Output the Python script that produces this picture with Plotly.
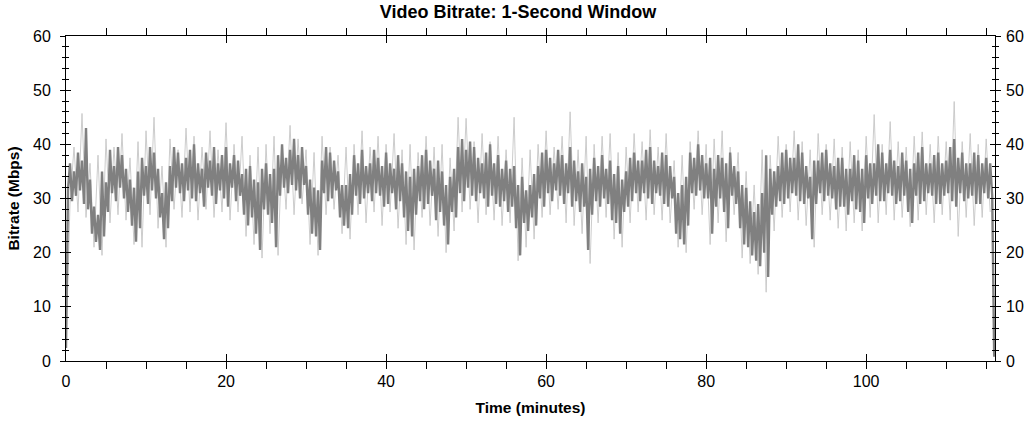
import plotly.graph_objects as go

# ---- data ----
# Main 1-second bitrate trace, sampled every 0.25 minute (Mbps); one row-group per minute
bitrate_step_min = 0.25
bitrate = [
    2.4, 31.5, 36.5, 29.5,  35.0, 30.5, 38.5, 31.5,  37.0, 29.0, 43.0, 28.0,  33.5, 23.5, 28.5, 22.0,
    27.0, 20.5, 35.0, 23.0,  33.0, 27.5, 39.0, 31.0,  36.0, 29.5, 39.5, 32.0,  38.0, 30.0, 35.5, 27.5,
    33.5, 25.0, 32.0, 22.0,  35.0, 24.5, 37.5, 30.5,  36.0, 29.0, 39.5, 31.5,  38.5, 30.0, 35.5, 26.5,
    31.0, 22.5, 33.0, 24.5,  36.0, 29.5, 39.5, 32.0,  38.5, 31.0, 36.5, 29.5,  37.5, 31.5, 39.0, 30.0,
    40.0, 29.5, 36.5, 31.0,  35.5, 28.5, 38.5, 32.0,  37.0, 30.5, 39.5, 29.0,  36.5, 31.5, 38.0, 30.0,
    39.5, 28.5, 36.5, 32.0,  38.0, 29.5, 37.0, 30.5,  34.5, 27.0, 35.5, 25.0,  36.0, 26.5, 33.5, 23.5,
    33.0, 20.5, 35.5, 28.0,  36.5, 27.0, 34.5, 25.5,  35.5, 21.0, 38.0, 30.5,  40.0, 32.0, 37.5, 31.0,
    39.0, 32.5, 41.0, 31.5,  38.0, 30.0, 39.5, 32.5,  36.0, 27.0, 33.5, 23.5,  32.0, 23.0, 31.5, 20.5,
    37.0, 31.0, 39.5, 29.5,  38.5, 30.0, 37.0, 31.5,  35.0, 26.5, 32.5, 25.0,  32.5, 24.5, 34.5, 27.0,
    38.0, 30.5, 36.5, 29.0,  39.0, 30.0, 36.0, 31.0,  36.5, 29.5, 39.0, 31.0,  37.5, 30.5, 36.0, 28.5,
    38.5, 29.0, 36.5, 31.0,  35.5, 28.0, 38.0, 29.5,  36.5, 26.5, 35.0, 24.0,  34.0, 23.0, 35.5, 27.0,
    36.0, 29.5, 38.0, 28.0,  39.0, 29.0, 37.0, 30.5,  35.5, 26.0, 37.0, 27.5,  35.0, 25.0, 32.5, 21.5,
    34.0, 27.5, 35.5, 26.5,  39.5, 31.0, 41.0, 29.5,  39.0, 32.0, 40.5, 30.5,  39.5, 29.5, 37.5, 31.0,
    36.5, 30.0, 38.5, 28.5,  40.0, 30.5, 36.5, 29.0,  38.0, 28.5, 35.5, 29.5,  37.0, 27.5, 35.5, 28.5,
    36.0, 24.5, 32.5, 19.5,  34.0, 25.5, 31.5, 24.0,  32.5, 26.5, 34.5, 25.0,  36.0, 30.0, 38.5, 28.5,
    39.0, 31.0, 37.5, 29.5,  36.5, 31.5, 39.0, 30.5,  38.0, 29.0, 36.5, 31.0,  39.5, 28.5, 37.0, 29.5,
    35.0, 27.5, 36.5, 28.5,  34.0, 20.5, 35.5, 27.0,  37.5, 29.5, 36.0, 28.5,  38.0, 30.0, 35.5, 29.0,
    37.0, 26.0, 34.5, 25.5,  36.0, 23.5, 33.5, 27.5,  35.0, 28.5, 37.5, 29.5,  38.5, 31.0, 37.0, 29.5,
    37.0, 31.0, 39.0, 30.0,  39.5, 29.0, 37.0, 31.0,  36.0, 30.5, 38.5, 29.0,  38.0, 28.5, 36.0, 30.0,
    34.0, 23.5, 31.0, 22.5,  32.5, 21.5, 34.0, 25.0,  38.5, 31.0, 37.5, 30.5,  40.0, 31.5, 38.0, 30.0,
    36.5, 30.0, 37.5, 23.5,  35.5, 28.5, 38.0, 30.0,  37.5, 27.5, 36.5, 24.5,  38.5, 30.5, 36.0, 29.0,
    35.0, 24.5, 32.5, 21.5,  32.0, 21.0, 29.5, 19.5,  27.5, 18.5, 29.0, 17.5,  31.0, 20.0, 38.0, 15.5,
    35.5, 27.0, 35.0, 28.5,  36.0, 29.5, 38.5, 29.0,  39.0, 30.0, 37.5, 31.0,  37.5, 30.5, 40.0, 29.5,
    38.5, 29.0, 36.0, 30.0,  34.0, 22.5, 37.0, 29.0,  37.0, 31.0, 38.5, 29.5,  39.0, 30.5, 36.5, 30.0,
    36.0, 28.0, 37.5, 28.5,  37.5, 28.5, 35.5, 27.0,  35.5, 29.5, 38.0, 28.0,  37.0, 27.5, 35.5, 25.5,
    38.0, 30.0, 36.5, 29.0,  36.5, 30.5, 40.0, 29.5,  38.5, 29.5, 36.5, 31.0,  39.0, 30.5, 37.0, 29.0,
    36.0, 29.5, 38.5, 30.5,  37.0, 27.5, 35.5, 25.5,  36.5, 30.5, 38.5, 29.0,  39.5, 29.5, 36.5, 31.0,
    36.5, 30.5, 38.0, 29.0,  38.5, 29.0, 36.5, 30.5,  37.0, 31.0, 39.5, 29.5,  41.0, 28.5, 37.5, 31.0,
    38.5, 29.5, 36.5, 30.0,  36.5, 30.5, 38.5, 29.0,  38.0, 29.0, 36.5, 31.0,  37.5, 30.0, 36.5, 30.5,
    0.8,
]

# Short single-second peaks (light grey), sampled every 0.5 minute: [high, low] per minute
peaks_step_min = 0.5
peaks = [
    2.4, 29.0,  39.5, 27.5,  45.7, 26.5,  36.5, 21.0,  38.0, 19.5,  41.0, 25.5,  39.5, 27.0,  42.0, 26.0,
    37.5, 21.5,  40.5, 21.0,  42.5, 27.0,  45.0, 24.5,  36.0, 21.0,  41.0, 28.0,  39.0, 26.5,  43.0, 27.5,
    41.5, 26.0,  39.5, 28.0,  42.5, 26.5,  39.0, 27.5,  44.0, 26.0,  40.0, 27.5,  41.5, 23.0,  38.0, 21.5,
    39.5, 19.0,  40.0, 23.5,  41.5, 19.5,  39.5, 28.0,  43.5, 27.0,  41.0, 29.0,  39.0, 21.5,  38.5, 19.5,
    41.5, 27.0,  39.5, 28.0,  38.0, 23.5,  39.5, 22.5,  40.0, 27.0,  42.5, 25.5,  39.5, 27.5,  41.5, 25.0,
    40.0, 27.5,  42.0, 24.5,  39.0, 21.5,  40.0, 20.5,  38.5, 26.5,  41.5, 25.0,  39.5, 23.0,  40.0, 20.0,
    37.5, 24.0,  45.0, 27.5,  44.8, 28.0,  40.5, 25.5,  42.0, 27.0,  40.5, 26.0,  41.5, 25.0,  39.0, 25.5,
    45.0, 18.5,  37.5, 21.0,  39.0, 22.5,  40.0, 26.5,  42.5, 27.0,  39.5, 28.0,  41.5, 25.5,  46.0, 25.0,
    39.0, 23.5,  41.5, 18.0,  40.0, 25.5,  41.5, 26.5,  42.0, 22.5,  38.5, 21.0,  39.5, 25.5,  42.0, 27.5,
    40.5, 26.0,  42.7, 27.0,  39.5, 26.0,  42.0, 25.5,  37.0, 21.0,  38.0, 20.0,  40.5, 28.0,  42.5, 27.0,
    40.0, 21.5,  41.0, 25.5,  42.5, 22.0,  39.5, 27.0,  38.5, 19.0,  35.0, 18.0,  32.5, 16.0,  39.0, 12.7,
    38.0, 24.0,  41.5, 26.5,  40.0, 27.5,  42.5, 26.0,  40.5, 25.0,  39.0, 21.0,  42.0, 27.0,  40.0, 26.0,
    41.0, 24.5,  39.5, 24.0,  40.5, 25.5,  39.0, 24.0,  41.5, 26.5,  45.5, 25.5,  40.0, 27.0,  44.2, 26.0,
    40.5, 26.5,  39.5, 24.8,  41.5, 26.0,  42.3, 27.0,  40.0, 25.5,  41.5, 27.0,  40.5, 26.0,  47.9, 23.0,
    40.5, 26.5,  42.0, 25.0,  40.0, 26.5,  41.0, 27.5,
]

x_ticks = [0, 20, 40, 60, 80, 100]
y_ticks = [0, 10, 20, 30, 40, 50, 60]

# ---- figure ----
t_bitrate = [i * bitrate_step_min for i in range(len(bitrate))]
t_peaks = [i * peaks_step_min for i in range(len(peaks))]

FONT = "Liberation Sans, Arial, sans-serif"
X_RANGE = [0, 116.1]
Y_RANGE = [0, 60]

fig = go.Figure()
fig.add_trace(go.Scatter(x=t_peaks, y=peaks, mode="lines",
                         line=dict(color="#c6c6c6", width=0.9),
                         showlegend=False, hoverinfo="skip", yaxis="y"))
fig.add_trace(go.Scatter(x=t_bitrate, y=bitrate, mode="lines",
                         line=dict(color="#808080", width=2.4),
                         showlegend=False, yaxis="y3"))
# carrier for the right-hand labels axis
fig.add_trace(go.Scatter(x=[None], y=[None], showlegend=False, hoverinfo="skip", yaxis="y2"))

fig.update_layout(
    width=1036, height=422,
    margin=dict(l=66, r=41, t=36, b=61, autoexpand=False),
    paper_bgcolor="white", plot_bgcolor="white",
    font=dict(family=FONT, size=16, color="black"),
    title=dict(text="<b>Video Bitrate: 1-Second Window</b>", x=0.5, xanchor="center",
               y=1 - 12 / 422, yanchor="middle", yref="container",
               font=dict(family=FONT, size=18, color="black")),
    xaxis=dict(range=X_RANGE, tickvals=x_ticks, showgrid=False, zeroline=False, automargin=False,
               showline=True, linecolor="black", linewidth=1, mirror="allticks",
               ticks="inside", ticklen=7, tickcolor="black",
               minor=dict(dtick=5, tick0=0, ticks="outside", ticklen=3, tickcolor="black", showgrid=False),
               ticklabelstandoff=6,
               title=dict(text="<b>Time (minutes)</b>", font=dict(family=FONT, size=15.5), standoff=12)),
    yaxis=dict(range=Y_RANGE, tickvals=y_ticks, showgrid=False, zeroline=False, automargin=False,
               showline=True, linecolor="black", linewidth=1, mirror="allticks",
               ticks="outside", ticklen=5, tickcolor="black",
               minor=dict(dtick=2, tick0=0, ticks="outside", ticklen=3, tickcolor="black", showgrid=False),
               ticklabelstandoff=6,
               title=dict(text="<b>Bitrate (Mbps)</b>", font=dict(family=FONT, size=15.5), standoff=9)),
    yaxis3=dict(range=Y_RANGE, overlaying="y", side="left", tickvals=y_ticks, showgrid=False,
                zeroline=False, showline=False, mirror="allticks", showticklabels=False, automargin=False,
                ticks="inside", ticklen=5, tickcolor="black",
                minor=dict(dtick=2, tick0=0, ticks="inside", ticklen=3, tickcolor="black", showgrid=False)),
    yaxis2=dict(range=Y_RANGE, overlaying="y", side="right", tickvals=y_ticks, showgrid=False,
                zeroline=False, showline=False, ticks="", ticklabelstandoff=10, automargin=False),
)

fig.write_html("out.html", config={"displayModeBar": False},
               post_script="document.body.style.margin='0';")
